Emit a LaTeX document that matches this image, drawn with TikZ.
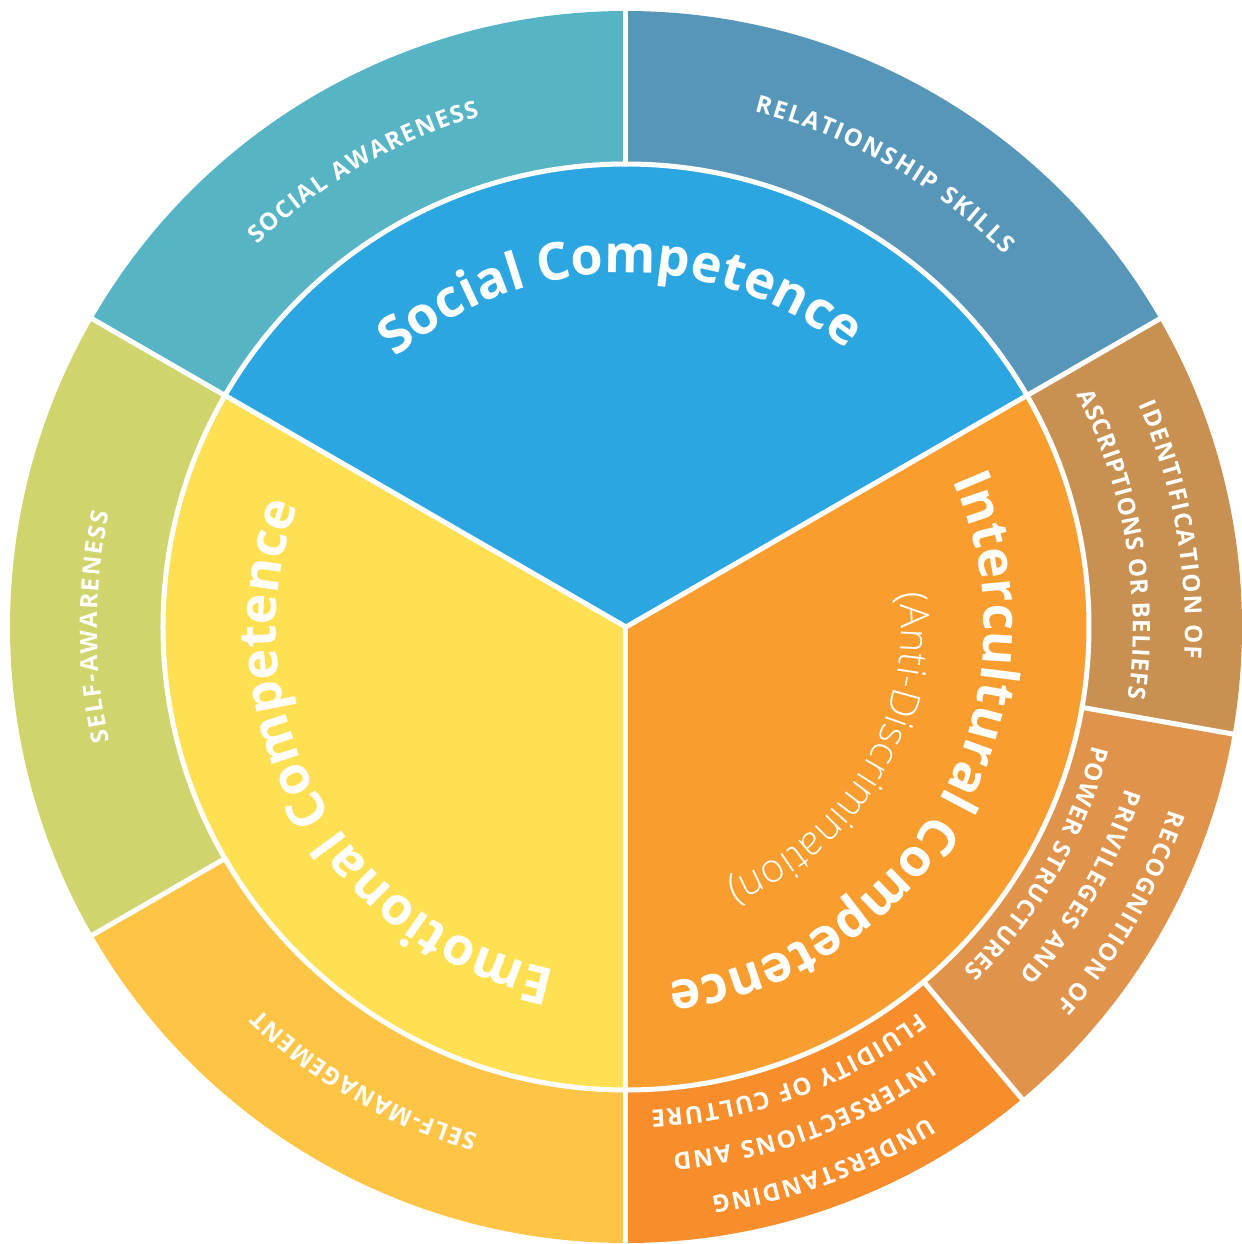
\documentclass[tikz,border=0pt]{standalone}
\usepackage{fontspec}
\setmainfont{Open Sans}
\IfFontExistsTF{Open Sans SemiBold}{\newfontfamily\titlefont{Open Sans SemiBold}}{\newcommand\titlefont{\bfseries}}
\IfFontExistsTF{Open Sans Light}{\newfontfamily\lightfont{Open Sans Light}}{\newcommand\lightfont{\mdseries}}
\usetikzlibrary{decorations.text}
\definecolor{cSA}{HTML}{56B4C5}
\definecolor{cRS}{HTML}{5697B9}
\definecolor{cSoc}{HTML}{2CA6E0}
\definecolor{cSAw}{HTML}{D0D46C}
\definecolor{cSM}{HTML}{FDC445}
\definecolor{cEmo}{HTML}{FEE052}
\definecolor{cInt}{HTML}{F99D2F}
\definecolor{cID}{HTML}{C89152}
\definecolor{cRE}{HTML}{E0934A}
\definecolor{cUN}{HTML}{F78D2B}
\newcommand\RingSeg[3]{\fill[#3] (0,0) -- (#1:616) arc[start angle=#1, end angle=#2, radius=616] -- cycle;}
\begin{document}
\begin{tikzpicture}[x=0.5pt,y=0.5pt,
  sep/.style={white, line width=2.5pt, line cap=round},
  titletext/.style={decorate, decoration={text along path, text align=center, text color=white,
     text={|\titlefont\fontsize{26}{30}\selectfont|#1}}},
  ringlabel/.style={decorate, decoration={text along path, text align=fit to path, text color=white,
     text={|\bfseries\fontsize{12}{14}\selectfont|#1}}}]
\fill[white] (-626,-617) rectangle (616,627);
\useasboundingbox (-626,-617) rectangle (616,627);
\coordinate (O) at (0,0);
% outer ring
\RingSeg{90}{150}{cSA}
\RingSeg{30}{90}{cRS}
\RingSeg{150}{210}{cSAw}
\RingSeg{210}{270}{cSM}
\RingSeg{270}{310}{cUN}
\RingSeg{310}{350}{cRE}
\RingSeg{350}{390}{cID}
% inner sectors
\fill[cSoc] (O) -- (30:463) arc[start angle=30, end angle=150, radius=463] -- cycle;
\fill[cEmo] (O) -- (150:463) arc[start angle=150, end angle=270, radius=463] -- cycle;
\fill[cInt] (O) -- (270:463) arc[start angle=270, end angle=390, radius=463] -- cycle;
% white separators
\draw[sep] (O) circle[radius=463];
\foreach \a in {30,150,270} \draw[sep] (O) -- (\a:616);
\foreach \a in {90,210,310,350} \draw[sep] (\a:463) -- (\a:616);
% main titles
\path[titletext={Social Competence}] (176:354) arc[start angle=176, end angle=6, radius=354];
\path[titletext={Emotional Competence}] (299:350) arc[start angle=299, end angle=119, radius=350];
\path[titletext={Intercultural Competence}] (60.5:358) arc[start angle=60.5, end angle=-119.5, radius=358];
\path[decorate, decoration={text along path, text align=center, text color=white,
   text={|\lightfont\fontsize{20}{23}\selectfont|(Anti-Discrimination)}}]
   (59.25:275) arc[start angle=59.25, end angle=-120.75, radius=275];
% ring labels
\path[ringlabel={SOCIAL AWARENESS}] (134:531) arc[start angle=134, end angle=106, radius=531];
\path[ringlabel={RELATIONSHIP SKILLS}] (76:531) arc[start angle=76, end angle=44.5, radius=531];
\path[ringlabel={SELF-AWARENESS}] (192.5:529) arc[start angle=192.5, end angle=167.5, radius=529];
\path[ringlabel={SELF-MANAGEMENT}] (253.75:529) arc[start angle=253.75, end angle=226.25, radius=529];
\path[ringlabel={IDENTIFICATION OF}] (23.5:559) arc[start angle=23.5, end angle=-3.2, radius=559];
\path[ringlabel={ASCRIPTIONS OR BELIEFS}] (27.3:507) arc[start angle=27.3, end angle=-8.1, radius=507];
\path[ringlabel={RECOGNITION OF}] (-18.6:573) arc[start angle=-18.6, end angle=-41.4, radius=573];
\path[ringlabel={PRIVILEGES AND}] (-17.9:525) arc[start angle=-17.9, end angle=-41.5, radius=525];
\path[ringlabel={POWER STRUCTURES}] (-14.2:481) arc[start angle=-14.2, end angle=-45.5, radius=481];
\path[ringlabel={UNDERSTANDING}] (-58.3:576) arc[start angle=-58.3, end angle=-81.5, radius=576];
\path[ringlabel={INTERSECTIONS AND}] (-55:528) arc[start angle=-55, end angle=-84.9, radius=528];
\path[ringlabel={FLUIDITY OF CULTURE}] (-52.8:484) arc[start angle=-52.8, end angle=-87, radius=484];
\end{tikzpicture}
\end{document}
